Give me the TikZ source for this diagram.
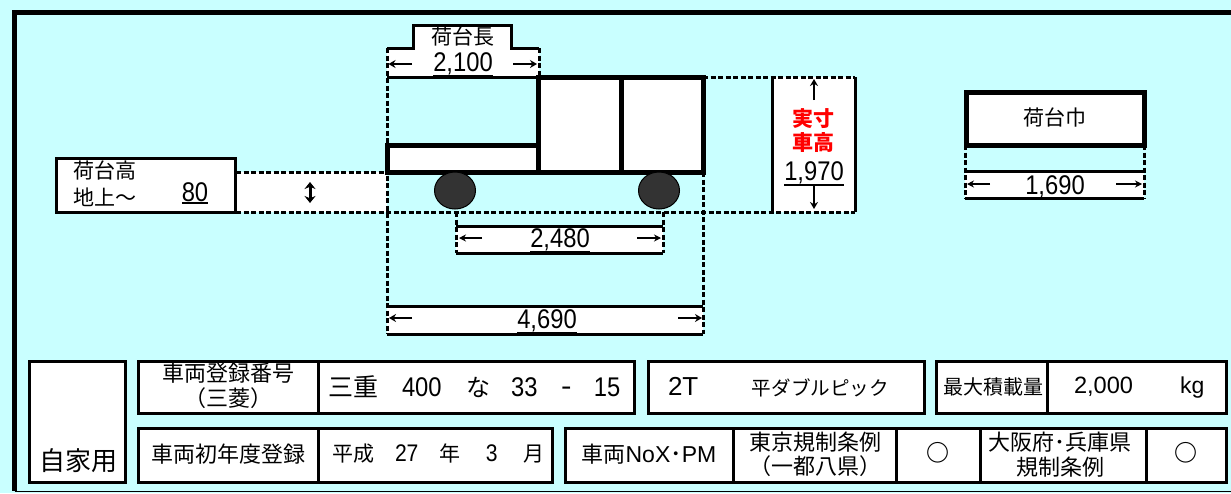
\documentclass[tikz,border=0pt]{standalone}
\usepackage{fontspec}
\setmainfont{Liberation Sans}
\newfontfamily\jp{Noto Sans CJK JP}
\newfontfamily\numf[FakeStretch=0.88]{Liberation Sans}
\usetikzlibrary{arrows.meta,shapes.geometric}
\definecolor{bgc}{HTML}{C9FFFF}
\definecolor{wheelc}{HTML}{333333}
\newcommand{\fs}[1]{\fontsize{#1}{#1}\selectfont}
\newcommand{\ulnum}[1]{\vtop{\hbox{#1}\kern0.6pt\hrule height 2pt}}
% name, x1, y1, x2, y2, style, text
\newcommand{\cellbox}[7]{%
  \pgfmathsetmacro{\cx}{(#2+#4)/2}\pgfmathsetmacro{\cy}{(#3+#5)/2}%
  \pgfmathsetmacro{\cw}{#4-#2}\pgfmathsetmacro{\ch}{#5-#3}%
  \node[#6,minimum width=\cw pt,minimum height=\ch pt] (#1) at (\cx,\cy) {#7};}
\newcommand{\txt}[5]{\node[lbl,font=\jp\fs{#4}] (#1) at (#2,#3) {#5};}
\newcommand{\num}[4]{\node[numlbl] (#1) at (#2,#3) {\ulnum{#4}};}
\tikzset{
  lbl/.style={inner sep=0pt,outer sep=0pt,align=center,text=black},
  numlbl/.style={inner sep=0pt,outer sep=0pt,text=black,anchor=base,font=\numf\fs{27}},
  cellb/.style={draw=black,fill=white,line width=3pt,inner sep=0pt,outer sep=0pt,align=center,font=\jp\fs{21}},
  heavy/.style={cellb,line width=5pt},
  plainw/.style={fill=white,inner sep=0pt,outer sep=0pt},
  dashline/.style={draw=black,line width=3pt,dash pattern=on 5pt off 2.5pt},
  solidline/.style={draw=black,line width=3pt},
  truck/.style={draw=black,fill=white,line width=5pt,inner sep=0pt,outer sep=0pt},
  arrowthin/.style={draw=black,line width=1.3pt,-{Stealth[length=7pt,width=7pt]}},
  arrowbold/.style={draw=black,line width=2.4pt,-{Stealth[length=7pt,width=8pt]}},
  wheelnode/.style={ellipse,draw=black,fill=wheelc,line width=1pt,inner sep=0pt,outer sep=0pt,minimum width=41pt,minimum height=37pt}
}
\begin{document}
\begin{tikzpicture}[x=1pt,y=-1pt]
\useasboundingbox (0,0) rectangle (1231,493);
\fill[bgc] (0,0) rectangle (1231,493);
% outer frame
\draw[black,line width=5pt] (1231,12.5) -- (14.5,12.5) -- (14.5,491);
\draw[black,line width=1.5pt] (14.5,491.5) -- (1231,491.5);

% white dimension bands
\cellbox{bandload}{236}{172}{387}{212}{plainw}{}
\cellbox{bandheight}{772}{77}{855}{212}{plainw}{}
\cellbox{bandtop}{413}{25}{511}{48}{plainw}{}
\cellbox{bandlen}{387}{48}{539}{77}{plainw}{}
\cellbox{bandwb}{456}{226}{663}{253}{plainw}{}
\cellbox{bandoa}{387}{306}{703}{334}{plainw}{}
\cellbox{bandwidth}{965}{171}{1144}{198}{plainw}{}

% solid dimension lines
\draw[solidline] (387,48) -- (413,48) -- (413,25.5) -- (511,25.5) -- (511,48) -- (539,48);
\draw[solidline] (387,77) -- (538,77);
\draw[solidline] (456,226) -- (663,226);
\draw[solidline] (456,253) -- (663,253);
\draw[solidline] (387,306) -- (703,306);
\draw[solidline] (387,334) -- (703,334);
\draw[solidline] (965,171) -- (1144,171);
\draw[solidline] (965,198) -- (1144,198);
\draw[solidline] (772,77) -- (772,212);
\draw[solidline] (855,77) -- (855,212);

% dashed guides
\draw[dashline] (236,172) -- (387,172);
\draw[dashline] (236,212) -- (855,212);
\draw[dashline] (703,77) -- (855,77);
\draw[dashline] (387,48) -- (387,334);
\draw[dashline] (703,172) -- (703,334);
\draw[dashline] (539,48) -- (539,77);
\draw[dashline] (456,212) -- (456,253);
\draw[dashline] (663,212) -- (663,253);
\draw[dashline] (965,145) -- (965,198);
\draw[dashline] (1144,145) -- (1144,198);

% truck
\cellbox{bed}{387}{145}{538}{172}{truck}{}
\cellbox{cabA}{538}{77}{621}{172}{truck}{}
\cellbox{cabB}{621}{77}{703}{172}{truck}{}
\node[wheelnode] (wheelF) at (455,190.5) {};
\node[wheelnode] (wheelR) at (659,190.5) {};

% load height box
\cellbox{loadbox}{56}{158}{235}{212}{cellb}{}
\txt{loadA}{105}{170}{21}{荷台高}
\txt{loadB}{105}{197}{21}{地上～}
\num{loadC}{195}{201}{80}

% arrows
\coordinate (hU) at (310,182); \coordinate (hD) at (310,203);
\draw[draw=black,line width=3pt,{Stealth[length=7pt,width=11pt]}-{Stealth[length=7pt,width=11pt]}] (hU) -- (hD);
\coordinate (a1s) at (412,64); \coordinate (a1e) at (388.5,64);
\coordinate (a2s) at (513,64); \coordinate (a2e) at (537,64);
\draw[arrowbold] (a1s) -- (a1e); \draw[arrowbold] (a2s) -- (a2e);
\coordinate (b1s) at (482,238); \coordinate (b1e) at (459,238);
\coordinate (b2s) at (637,238); \coordinate (b2e) at (661,238);
\draw[arrowthin] (b1s) -- (b1e); \draw[arrowthin] (b2s) -- (b2e);
\coordinate (c1s) at (412,318); \coordinate (c1e) at (389,318);
\coordinate (c2s) at (678,318); \coordinate (c2e) at (702,318);
\draw[arrowbold] (c1s) -- (c1e); \draw[arrowbold] (c2s) -- (c2e);
\coordinate (d1s) at (814,100); \coordinate (d1e) at (814,79);
\coordinate (d2s) at (814,186); \coordinate (d2e) at (814,209);
\draw[arrowbold] (d1s) -- (d1e); \draw[arrowbold] (d2s) -- (d2e);
\coordinate (e1s) at (990,184); \coordinate (e1e) at (967,184);
\coordinate (e2s) at (1116,184); \coordinate (e2e) at (1142,184);
\draw[arrowthin] (e1s) -- (e1e); \draw[arrowthin] (e2s) -- (e2e);

% dimension labels
\txt{lenT}{463}{37}{21}{荷台長}
\num{lenV}{463}{71}{2,100}
\num{wbV}{560}{247}{2,480}
\num{oaV}{547}{328}{4,690}
\node[lbl,font=\jp\bfseries\fs{21},text=red] (realT) at (813.5,131) {実寸\\[3pt]車高};
\num{realV}{814}{180}{1,970}
\cellbox{widthbox}{966}{92}{1144}{145}{heavy}{}
\txt{widthT}{1055}{117}{21}{荷台巾}
\num{widthV}{1055}{194}{1,690}

% table
\cellbox{usebox}{29}{361}{125}{482}{cellb}{}
\txt{useT}{78}{461}{26}{自家用}
\cellbox{regL}{138}{361}{318}{413}{cellb}{}
\cellbox{regV}{318}{361}{634}{413}{cellb}{}
\node[lbl,font=\jp\fs{22}] (regA) at (228,386) {車両登録番号\\[3pt]（三菱）};
\node[lbl,font=\numf\fs{27},anchor=west] (regB) at (328,387) {{\jp\fs{25}三重}\hspace{24pt}400\hspace{24.4pt}{\jp\fs{24}な}\hspace{21pt}33\hspace{23.6pt}{\jp\fs{30}-}\hspace{22.5pt}15};
\cellbox{typeV}{648}{361}{924}{413}{cellb}{}
\node[lbl,font=\fs{26},anchor=west] (typeA) at (668,387) {2T\hspace{53.6pt}{\jp\fs{19.6}平ダブルピック}};
\cellbox{maxL}{936}{361}{1047}{413}{cellb}{}
\cellbox{maxV}{1047}{361}{1226}{413}{cellb}{}
\txt{maxA}{993}{387}{20}{最大積載量}
\node[lbl,font=\fs{23.6},anchor=west] (maxB) at (1074,388) {2,000\hspace{47pt}{\fs{23}kg}};
\cellbox{firstL}{138}{428}{318}{482}{cellb}{}
\cellbox{firstV}{318}{428}{552}{482}{cellb}{}
\txt{firstA}{228}{454}{22}{車両初年度登録}
\node[lbl,font=\numf\fs{24},anchor=west] (firstB) at (332,454) {{\jp\fs{21}平成}\hspace{21pt}27\hspace{21.5pt}{\jp\fs{21}年}\hspace{25pt}3\hspace{25.5pt}{\jp\fs{21}月}};
\cellbox{noxL}{565}{428}{733}{482}{cellb}{}
\cellbox{tokL}{733}{428}{896}{482}{cellb}{}
\cellbox{tokV}{896}{428}{980}{482}{cellb}{}
\cellbox{osaL}{980}{428}{1146}{482}{cellb}{}
\cellbox{osaV}{1146}{428}{1226}{482}{cellb}{}
\node[lbl,font=\fs{23}] (noxA) at (649,454) {{\jp\fs{22}車両}NoX{\jp ･}PM};
\node[lbl,font=\jp\fs{22}] (tokA) at (815,454.5) {東京規制条例\\[2.5pt]（一都八県）};
\node[lbl,font=\jp\bfseries\fs{23}] (tokB) at (938,453) {○};
\node[lbl,font=\jp\fs{22}] (osaA) at (1060,454.5) {大阪府･兵庫県\\[2.5pt]規制条例};
\node[lbl,font=\jp\bfseries\fs{23}] (osaB) at (1186,453) {○};
\end{tikzpicture}
\end{document}
